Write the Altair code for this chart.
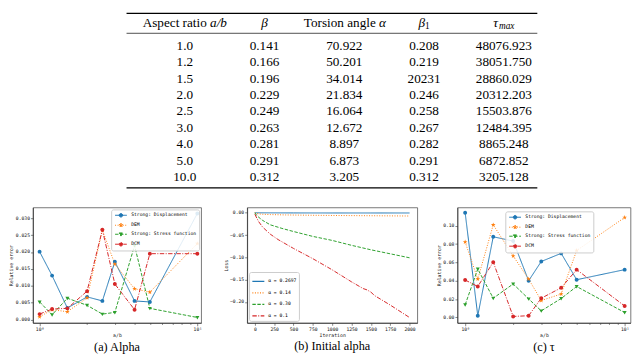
import altair as alt
import pandas as pd

# ---------------- table values ----------------
aspect_ratio = ["1.0", "1.2", "1.5", "2.0", "2.5", "3.0", "4.0", "5.0", "10.0"]
beta = ["0.141", "0.166", "0.196", "0.229", "0.249", "0.263", "0.281", "0.291", "0.312"]
torsion_angle = ["70.922", "50.201", "34.014", "21.834", "16.064", "12.672", "8.897", "6.873", "3.205"]
beta_1 = ["0.208", "0.219", "20231", "0.246", "0.258", "0.267", "0.282", "0.291", "0.312"]
tau_max = ["48076.923", "38051.750", "28860.029", "20312.203", "15503.876",
           "12484.395", "8865.248", "6872.852", "3205.128"]

# ---------------- panels (a) and (c) ----------------
ab_ratio = [1.0, 1.2, 1.5, 2.0, 2.5, 3.0, 4.0, 5.0, 10.0]
method_names = ["Strong: Displacement", "DEM", "Strong: Stress function", "DCM"]

alpha_displacement = [0.0201, 0.0130, 0.0034, 0.0067, 0.0055, 0.0171, 0.0055, 0.0052, 0.0314]
alpha_dem = [0.0008, 0.0029, 0.0023, 0.0064, 0.0265, 0.0164, 0.0091, 0.0081, 0.0225]
alpha_stress = [0.0052, 0.0014, 0.0063, 0.0042, 0.0016, 0.0021, 0.0219, 0.0033, 0.0006]
alpha_dcm = [0.0016, 0.0031, 0.0033, 0.0084, 0.0266, 0.0105, 0.0029, 0.0195, 0.0195]

tau_displacement = [0.1142, 0.0018, 0.0880, 0.0833, 0.0400, 0.0610, 0.0699, 0.0411, 0.0521]
tau_dem = [0.0823, 0.0418, 0.1010, 0.0670, 0.0418, 0.0184, 0.0255, 0.0730, 0.1090]
tau_stress = [0.0138, 0.0528, 0.0209, 0.0365, 0.0202, 0.0071, 0.0206, 0.0337, 0.0053]
tau_dcm = [0.0408, 0.0337, 0.0603, 0.0010, 0.0018, 0.0209, 0.0323, 0.0521, 0.0124]

# ---------------- panel (b) ----------------
b_labels = ["α = 0.2697", "α = 0.14", "α = 0.30", "α = 0.1"]
b_iter_1 = [0, 500, 1000, 1500, 2000]
b_loss_1 = [0.0, -0.0003, -0.0004, -0.0004, -0.0004]
b_iter_2 = [0, 25, 50, 100, 200, 400, 700, 1000, 1500, 2000]
b_loss_2 = [0.0, -0.0015, -0.0025, -0.0033, -0.0040, -0.0048, -0.0055, -0.0060, -0.0066, -0.0072]
b_iter_3 = [0, 25, 50, 100, 200, 350, 500, 750, 1000, 1250, 1500, 1750, 2000]
b_loss_3 = [0.0, -0.006, -0.010, -0.017, -0.027, -0.035, -0.042, -0.053, -0.062, -0.073,
            -0.083, -0.092, -0.101]
b_iter_4 = [0, 25, 50, 100, 200, 300, 500, 750, 1000, 1250, 1400, 1450, 1500, 1550, 1750, 2000]
b_loss_4 = [-0.003, -0.012, -0.020, -0.032, -0.048, -0.060, -0.080, -0.103, -0.128, -0.155,
            -0.170, -0.173, -0.178, -0.186, -0.207, -0.235]

# ---------------- styles ----------------
SERIF = "'Liberation Serif', 'DejaVu Serif', serif"
MONO = "DejaVu Sans Mono"
TAB = ["#1f77b4", "#ff7f0e", "#2ca02c", "#d62728"]
DASHES = [[1, 0], [1, 1.6], [3.5, 1.6], [4.5, 1.5, 1, 1.5]]
# marker shapes (with a zero-area line segment that only shows when stroked, in the legend)
SEG = "M-2.0,0H2.0"
CIRCLE = SEG + "M0.6,0A0.6,0.6,0,1,1,-0.6,0A0.6,0.6,0,1,1,0.6,0Z"
STAR = (SEG + "M0,-0.75L0.176,-0.243L0.713,-0.232L0.285,0.093L0.441,0.607L0,0.3L-0.441,0.607"
        "L-0.285,0.093L-0.713,-0.232L-0.176,-0.243Z")
TRI_DOWN = SEG + "M-0.62,-0.45L0.62,-0.45L0,0.62Z"
MARKERS = [CIRCLE, STAR, TRI_DOWN, CIRCLE]


def pick(names, values):
    """Vega expression choosing a value by legend entry."""
    expr = values[-1]
    for n, v in reversed(list(zip(names[:-1], values[:-1]))):
        expr = "datum.value == '" + n + "' ? " + v + " : " + expr
    return expr


COLOR_EXPR = pick(method_names, ["'" + c + "'" for c in TAB])
DASH_EXPR = pick(method_names, [str(d) for d in DASHES])

# ---------------- table chart ----------------
TABLE_W, TABLE_H = 420, 180
HEADER_ROW = -0.43
xs = alt.X("col:Q", scale=alt.Scale(domain=[-0.73, 4.42], nice=False, zero=False), axis=None)
ys = alt.Y("row:Q", scale=alt.Scale(domain=[-1.03, 9.72], nice=False, zero=False, reverse=True),
           axis=None)

body_rows = []
for ci, column in enumerate([aspect_ratio, beta, torsion_angle, beta_1, tau_max]):
    for ri, cell in enumerate(column):
        body_rows.append({"col": ci, "row": ri + 1, "cell": cell})
body = alt.Chart(pd.DataFrame(body_rows)).mark_text(
    font=SERIF, fontSize=13.5, color="black"
).encode(x=xs, y=ys, text="cell:N")


def head(text, col, dx=0.0, dy=0.0, align="center", italic=False, size=13.5):
    df = pd.DataFrame({"col": [col], "row": [HEADER_ROW], "t": [text]})
    return alt.Chart(df).mark_text(
        font=SERIF, fontSize=size, color="black", align=align, dx=dx, dy=dy,
        fontStyle="italic" if italic else "normal",
    ).encode(x=xs, y=ys, text="t:N")


headers = [
    head("Aspect ratio", 0, dx=22.5, align="right"),
    head("a/b", 0, dx=25.9, align="left", italic=True),
    head("β", 1, italic=True),
    head("Torsion angle", 2, dx=32.2, align="right"),
    head("α", 2, dx=35.6, align="left", italic=True),
    head("β", 3, dx=-5.75, align="left", italic=True),
    head("1", 3, dx=1.0, dy=3.5, align="left", size=9.5),
    head("τ", 4, dx=-10.9, align="left", italic=True),
    head("max", 4, dx=-4.9, dy=3.5, align="left", italic=True, size=9.5),
]

rule_rows = [-1.0, 0.22, 9.66]
rule_widths = [1.2, 0.7, 1.2]
rules = alt.Chart(pd.DataFrame({"row": rule_rows, "w": rule_widths})).mark_rule(color="black").encode(
    y=ys, x=alt.value(0), x2=alt.value(TABLE_W),
    strokeWidth=alt.StrokeWidth("w:Q", scale=None),
)

table = alt.layer(rules, body, *headers).properties(
    width=TABLE_W, height=TABLE_H, view=alt.ViewBackground(strokeWidth=0)
)


# ---------------- error panels ----------------
def marker_legend(**kw):
    return alt.Legend(
        title=None, labelFont=MONO, labelFontSize=4.8, symbolSize=36,
        rowPadding=1.2, padding=2.5, symbolOffset=4, labelOffset=7,
        fillColor="rgba(255,255,255,0.85)", strokeColor="#cccccc", cornerRadius=2,
        symbolStrokeColor={"expr": COLOR_EXPR}, symbolDash={"expr": DASH_EXPR},
        symbolStrokeWidth=1, symbolOpacity=1,
        **kw,
    )


def error_panel(series_values, y_domain, y_ticks, y_fmt, x_domain, width, legend, caption):
    rows = []
    for name, vals in zip(method_names, series_values):
        for x, v in zip(ab_ratio, vals):
            rows.append({"method": name, "ab": x, "err": v})
    base = alt.Chart(pd.DataFrame(rows))
    x = alt.X("ab:Q", scale=alt.Scale(type="log", domain=x_domain, nice=False),
              axis=alt.Axis(values=[1, 2, 3, 4, 5, 6, 7, 8, 9, 10],
                            labelExpr="datum.value == 1 ? '10⁰' : datum.value == 10 ? '10¹' : ''",
                            labelOverlap=False,
                            tickSize={"condition": {"test": "datum.value == 1 || datum.value == 10",
                                                    "value": 3}, "value": 1.6},
                            title="a/b"))
    y = alt.Y("err:Q", scale=alt.Scale(domain=y_domain, nice=False, zero=False),
              axis=alt.Axis(values=y_ticks, format=y_fmt, title="Relative error"))
    color = alt.Color("method:N", scale=alt.Scale(domain=method_names, range=TAB), legend=legend)
    dash = alt.StrokeDash("method:N", scale=alt.Scale(domain=method_names, range=DASHES),
                          legend=legend)
    shape = alt.Shape("method:N", scale=alt.Scale(domain=method_names, range=MARKERS),
                      legend=legend)
    lines = base.mark_line(strokeWidth=1).encode(x=x, y=y, color=color, strokeDash=dash)
    points = base.mark_point(filled=True, size=44, opacity=1).encode(x=x, y=y, color=color,
                                                                     shape=shape)
    return alt.layer(lines, points).properties(
        width=width, height=118,
        title=alt.TitleParams(caption, orient="bottom", font=SERIF, fontSize=12.5,
                              fontWeight="normal", color="black", offset=3),
    )


panel_a = error_panel(
    [alpha_displacement, alpha_dem, alpha_stress, alpha_dcm],
    [-0.001, 0.0332], [0, 0.005, 0.01, 0.015, 0.02, 0.025, 0.03], ".3f",
    [0.907, 10.57], 172, marker_legend(orient="top-right", offset=2), "(a) Alpha",
)
panel_c = error_panel(
    [tau_displacement, tau_dem, tau_stress, tau_dcm],
    [-0.006, 0.12], [0, 0.02, 0.04, 0.06, 0.08, 0.1], ".2f",
    [0.894, 10.88], 177, marker_legend(orient="none", legendX=49, legendY=4), "(c) τ",
)

# ---------------- loss panel ----------------
b_rows = []
for name, its, ls in zip(b_labels, [b_iter_1, b_iter_2, b_iter_3, b_iter_4],
                         [b_loss_1, b_loss_2, b_loss_3, b_loss_4]):
    for it, l in zip(its, ls):
        b_rows.append({"series": name, "iteration": it, "loss": l})
b_legend = alt.Legend(title=None, labelFont=MONO, labelFontSize=4.8, symbolSize=150,
                      symbolType="stroke", symbolStrokeWidth=1.2, rowPadding=1.8, padding=2.5,
                      labelOffset=3, fillColor="rgba(255,255,255,0.85)", strokeColor="#cccccc",
                      cornerRadius=2, orient="bottom-left", offset=2)
panel_b = alt.Chart(pd.DataFrame(b_rows)).mark_line(strokeWidth=1).encode(
    x=alt.X("iteration:Q", scale=alt.Scale(domain=[-100, 2100], nice=False, zero=False),
            axis=alt.Axis(values=list(range(0, 2001, 250)), format="d", title="Iteration")),
    y=alt.Y("loss:Q", scale=alt.Scale(domain=[-0.247, 0.012], nice=False, zero=False),
            axis=alt.Axis(values=[0, -0.05, -0.1, -0.15, -0.2], format=".2f", title="Loss")),
    color=alt.Color("series:N", scale=alt.Scale(domain=b_labels, range=TAB), legend=b_legend),
    strokeDash=alt.StrokeDash("series:N", scale=alt.Scale(domain=b_labels, range=DASHES),
                              legend=b_legend),
).properties(
    width=174, height=118,
    title=alt.TitleParams("(b) Initial alpha", orient="bottom", font=SERIF, fontSize=12.5,
                          fontWeight="normal", color="black", offset=3),
)

bottom = alt.hconcat(panel_a, panel_b, panel_c, spacing=18).resolve_scale(
    color="independent", shape="independent", strokeDash="independent"
)

chart = alt.vconcat(table, bottom, spacing=18, center=True).properties(padding=0).configure_axis(
    grid=False, labelFont=MONO, labelFontSize=4.8, titleFont=MONO, titleFontSize=5,
    titleFontWeight="normal", tickSize=2.5, labelPadding=1, titlePadding=1.5,
    domainColor="#333333", tickColor="#333333", labelColor="#222222", titleColor="#222222",
    tickWidth=0.6, domainWidth=0.8,
).configure_view(stroke="#555555", strokeWidth=0.8)

chart.save("out.html", embed_options={"renderer": "svg", "actions": False})
